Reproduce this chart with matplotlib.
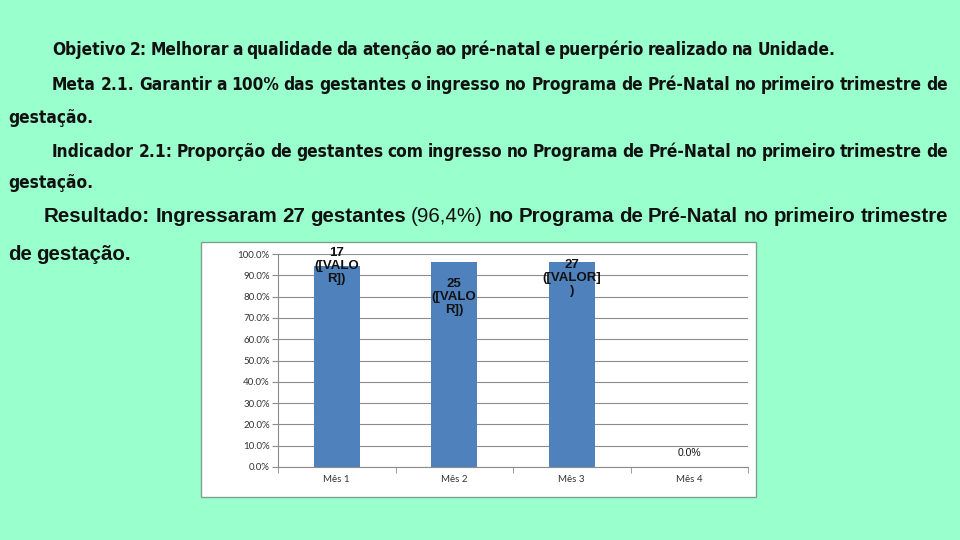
import matplotlib.pyplot as plt
from matplotlib.patches import Rectangle
from matplotlib.ticker import FuncFormatter
from matplotlib import font_manager as fm

meses = ['Mês 1', 'Mês 2', 'Mês 3', 'Mês 4']
proporcao = [94.4, 96.2, 96.4, 0.0]
rotulos = ['17\n([VALO\nR])', '25\n([VALO\nR])', '27\n([VALOR]\n)', '0.0%']
yticks = [0, 10, 20, 30, 40, 50, 60, 70, 80, 90, 100]

# (partes com peso, x inicial px, y px, justificar, estreita)
linhas = [
    ([('Objetivo 2: Melhorar a qualidade da atenção ao pré-natal e puerpério realizado na Unidade.', 'bold')], 52, 50, False, True),
    ([('Meta 2.1. Garantir a 100% das gestantes o ingresso no Programa de Pré-Natal no primeiro trimestre de', 'bold')], 52, 85, True, True),
    ([('gestação.', 'bold')], 8, 118, False, True),
    ([('Indicador 2.1: Proporção de gestantes com ingresso no Programa de Pré-Natal no primeiro trimestre de', 'bold')], 52, 152, True, True),
    ([('gestação.', 'bold')], 8, 183, False, True),
    ([('Resultado: Ingressaram 27 gestantes', 'bold'), ('(96,4%)', 'normal'),
      ('no Programa de Pré-Natal no primeiro trimestre', 'bold')], 44, 217, True, False),
    ([('de gestação.', 'bold')], 8, 254, False, False),
]

# escolher fonte estreita disponível
def tem(fam, stretch='normal'):
    try:
        return fm.findfont(fm.FontProperties(family=fam, stretch=stretch), fallback_to_default=False)
    except Exception:
        return None

estreita, estica = 'Liberation Sans', 'normal'
p = tem('Liberation Sans Narrow')
if p and 'Narrow' in p:
    estreita = 'Liberation Sans Narrow'
else:
    p = tem('DejaVu Sans', 'condensed')
    if p and 'Condensed' in p:
        estreita, estica = 'DejaVu Sans', 'condensed'

W, H = 960, 540
fig = plt.figure(figsize=(9.6, 5.4), dpi=100)
fig.patch.set_facecolor('#99ffcc')
renderer = fig.canvas.get_renderer()

def escrever(partes, x0, y0, justificar, narrow, tam):
    objs = []
    for txt, peso in partes:
        for pw in txt.split(' '):
            if narrow:
                fam, st = [estreita, 'DejaVu Sans'], estica
            else:
                fam, st = ['Liberation Sans', 'DejaVu Sans'], 'normal'
            t = fig.text(x0 / W, 1 - y0 / H, pw, fontsize=tam, fontweight=peso,
                         family=fam, fontstretch=st,
                         va='center', ha='left', color='#111111')
            objs.append(t)
    larg = [t.get_window_extent(renderer).width for t in objs]
    return objs, larg

tam_narrow, tam_largo = 13.0, 13.0
# ajustar tamanho da fonte estreita para caber nas linhas justificadas
for partes, x0, y0, just, narrow in linhas:
    if just:
        objs, larg = escrever(partes, x0, y0, just, narrow, 13.0)
        nat = sum(larg) + 13.0 * 0.3 * (len(objs) - 1)
        for t in objs:
            t.remove()
        f = (948 - x0) / nat
        if narrow:
            tam_narrow = min(tam_narrow, 13.0 * f * 0.99)
        else:
            tam_largo = 13.0 * f * 0.99

for partes, x0, y0, just, narrow in linhas:
    tam = tam_narrow if narrow else tam_largo
    objs, larg = escrever(partes, x0, y0, just, narrow, tam)
    if just:
        esp = (948 - x0 - sum(larg)) / (len(objs) - 1)
    else:
        esp = tam * 0.3
    x = x0
    for t, w in zip(objs, larg):
        t.set_x(x / W)
        x += w + esp

# caixa do gráfico
fig.patches.append(Rectangle((201 / W, 1 - 497 / H), 555 / W, 255 / H,
                             transform=fig.transFigure, facecolor='white',
                             edgecolor='#7f9f8f', linewidth=1, zorder=-5))

ax = fig.add_axes([278 / W, 1 - 467 / H, 470 / W, 213 / H])
ax.set_zorder(5)
ax.set_facecolor('white')
x = range(len(meses))
barras = ax.bar(x, proporcao, width=0.39, color='#4f81bd', zorder=2)
ax.set_xlim(-0.5, 3.5)
ax.set_ylim(0, 100)
ax.set_yticks(yticks)
ax.yaxis.set_major_formatter(FuncFormatter(lambda v, p: f'{v:.1f}%'))
ax.grid(axis='y', color='#8c8c8c', linewidth=0.8, zorder=1)
ax.set_xticks(list(x))
ax.set_xticklabels(meses)
ax.set_xticks([-0.5, 0.5, 1.5, 2.5, 3.5], minor=True)
ax.tick_params(axis='x', which='major', length=0, labelsize=7, pad=6, colors='#333333')
ax.tick_params(axis='x', which='minor', length=4, color='#8c8c8c', direction='out')
ax.tick_params(axis='y', length=4, color='#8c8c8c', labelsize=7, colors='#333333', pad=2)
for s in ['top', 'right']:
    ax.spines[s].set_visible(False)
ax.spines['left'].set_color('#8c8c8c')
ax.spines['bottom'].set_color('#8c8c8c')
for lab in ax.get_xticklabels() + ax.get_yticklabels():
    lab.set_family(['Lato', 'DejaVu Sans'])

deslocs = [0, -25, -12, 10]
for b, r, d, v in zip(barras, rotulos, deslocs, proporcao):
    peso = 'normal' if v == 0 else 'bold'
    tam = 7.5 if v == 0 else 9.5
    ax.annotate(r, (b.get_x() + b.get_width() / 2, b.get_height()),
                xytext=(0, d), textcoords='offset points', ha='center',
                va='center', fontsize=tam, fontweight=peso, color='#111111',
                family=['Liberation Sans', 'DejaVu Sans'], linespacing=1.1,
                zorder=3, annotation_clip=False)

fig.savefig('out.png', dpi=100, facecolor=fig.get_facecolor())
